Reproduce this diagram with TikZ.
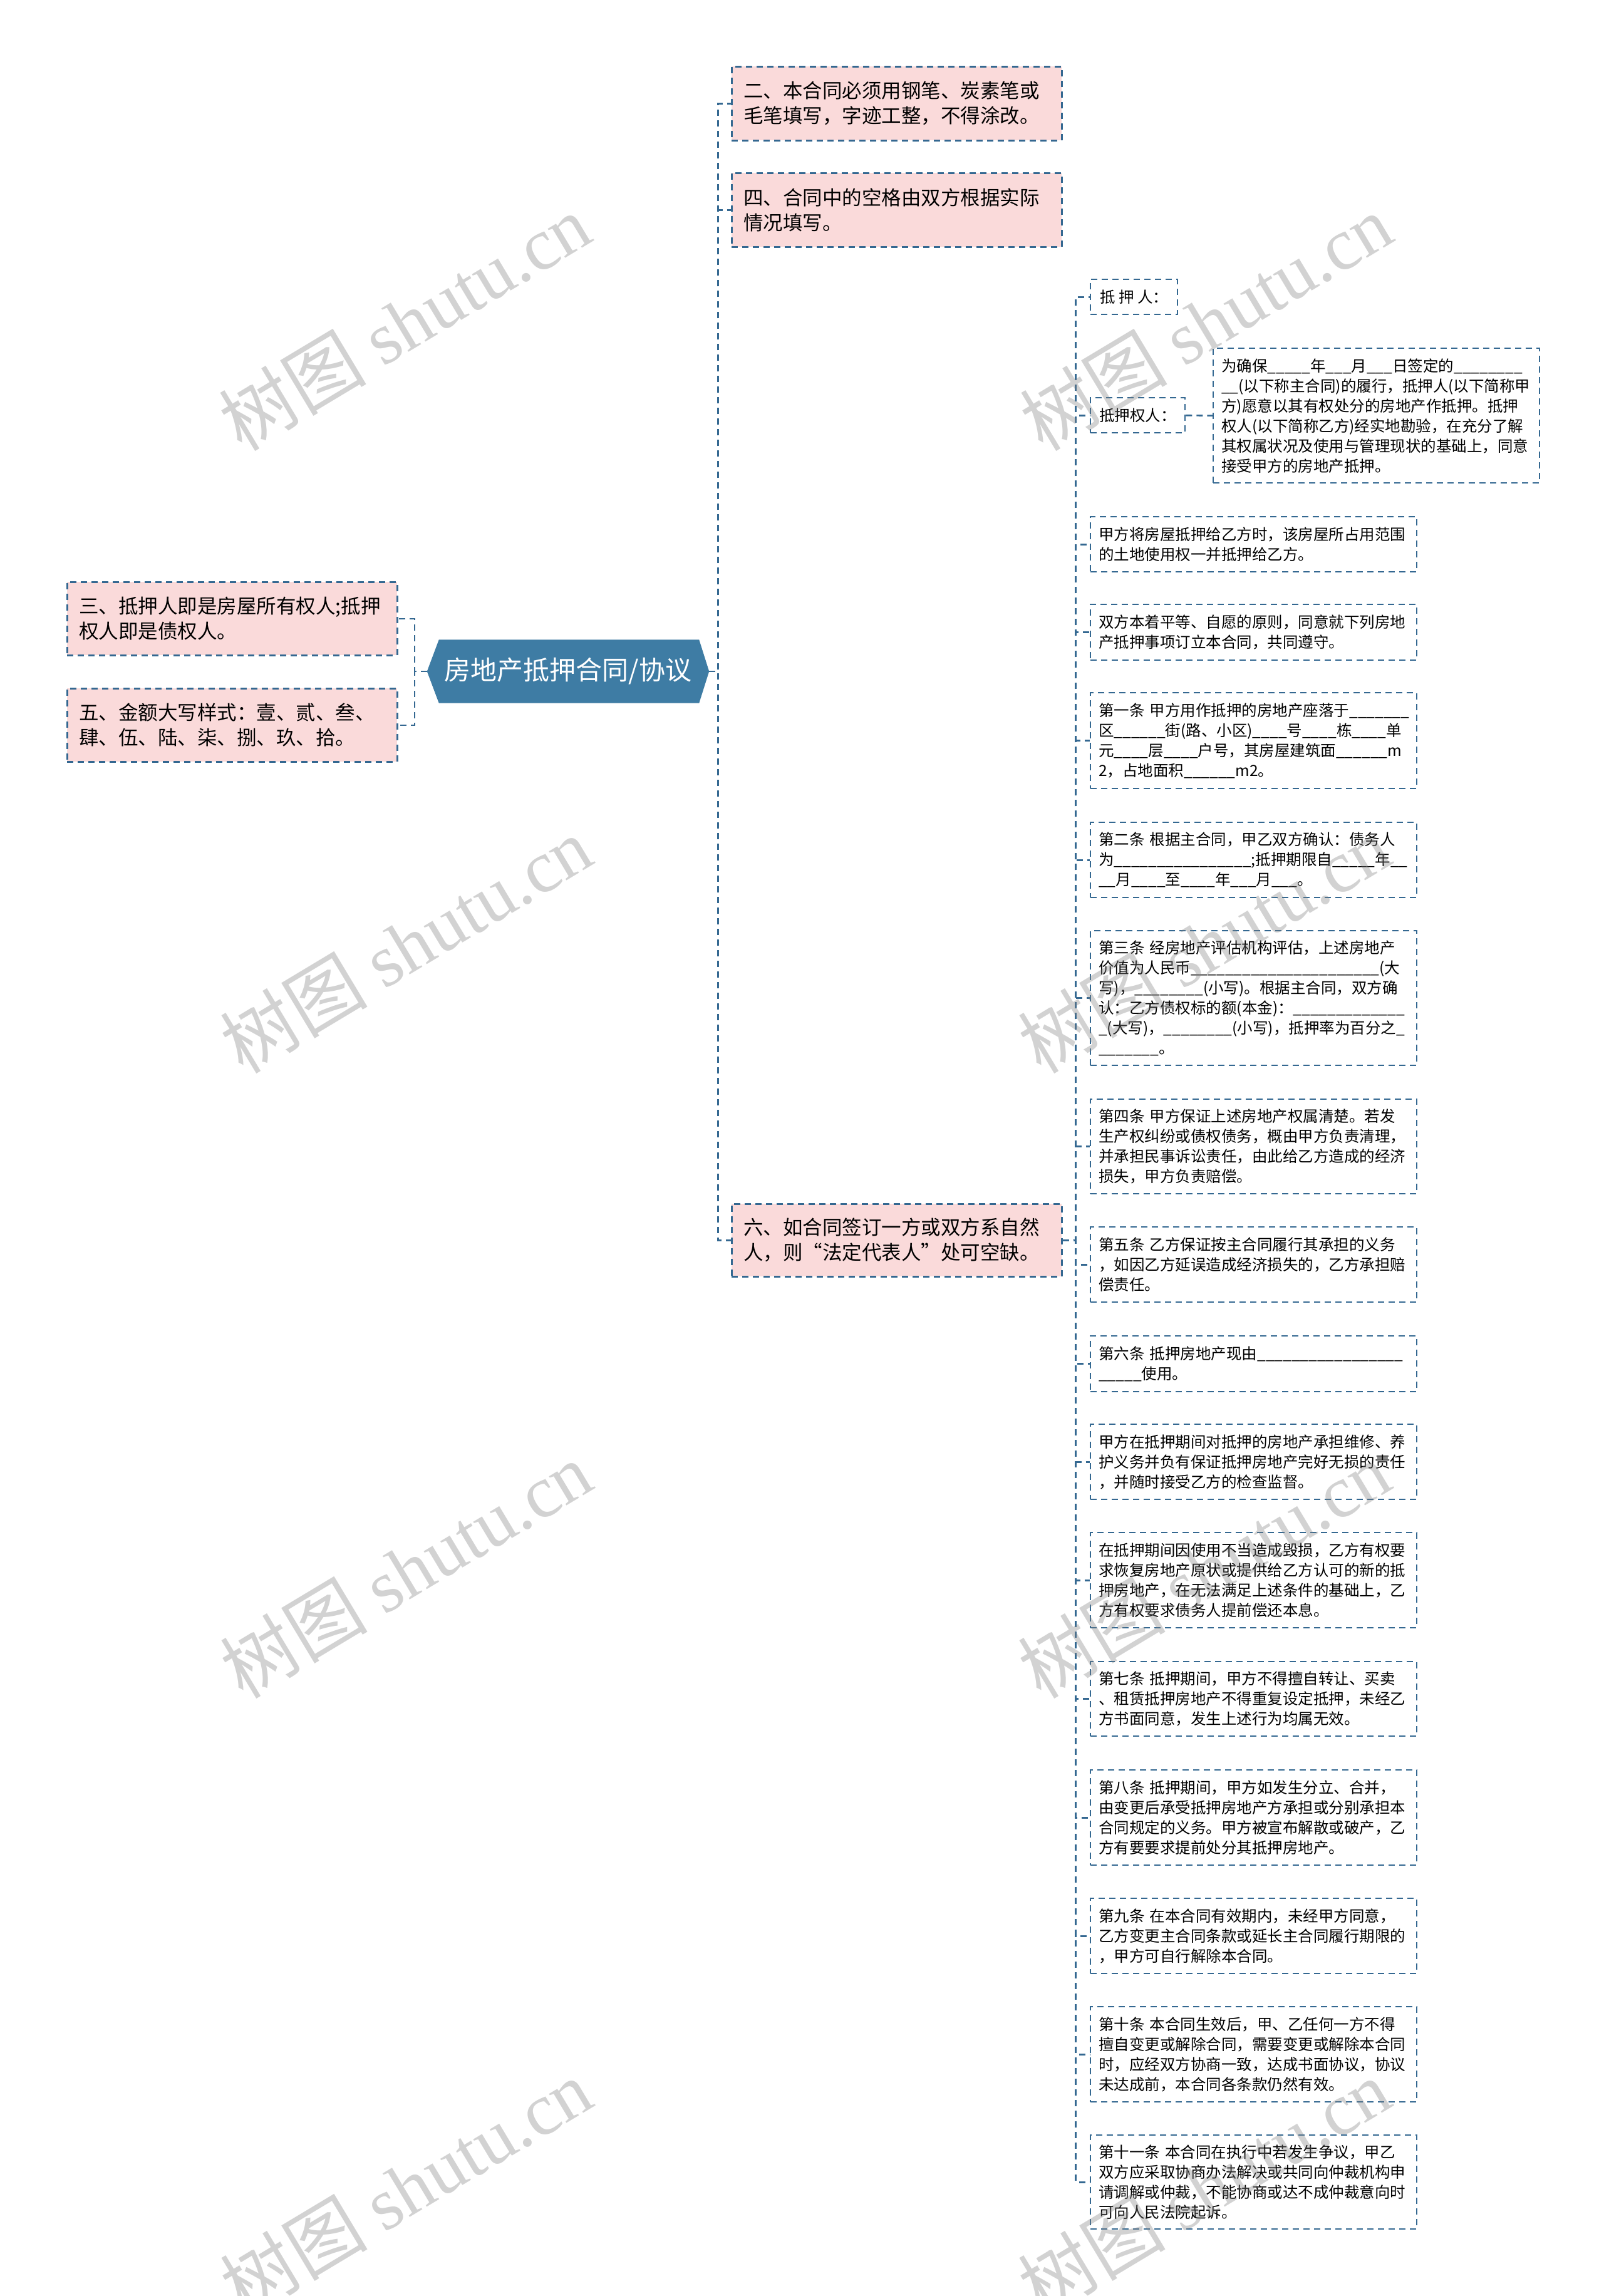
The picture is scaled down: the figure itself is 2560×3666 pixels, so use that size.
\documentclass[tikz,border=0pt]{standalone}
\usepackage{fontspec}
\setmainfont{Noto Sans CJK SC}
\newfontfamily\wmserif{Liberation Serif}
\usetikzlibrary{backgrounds}
\definecolor{lineblue}{RGB}{52,104,145}
\definecolor{rootblue}{RGB}{62,124,164}
\definecolor{pinkfill}{RGB}{250,218,218}
\newcommand\myblank[1]{\ifnum#1>0 \_\expandafter\myblank\expandafter{\the\numexpr#1-1\relax}\fi}
\begin{document}
\begin{tikzpicture}[x=1pt,y=-1pt,
  conn/.style={draw=lineblue, line width=2.6pt, dash pattern=on 10pt off 7pt},
  pinkbox/.style={draw=lineblue, fill=pinkfill, line width=2.6pt, dash pattern=on 10pt off 7pt,
    anchor=north west, inner xsep=19pt, inner ysep=0pt, align=left, text width=489pt,
    minimum width=527pt, font=\fontsize{31.5}{40}\selectfont},
  whitebox/.style={draw=lineblue, fill=white, line width=2.4pt, dash pattern=on 10pt off 7pt,
    anchor=north west, inner xsep=13pt, inner ysep=0pt, align=left, text width=495pt,
    minimum width=521pt, font=\fontsize{24.5}{32}\selectfont},
  shortbox/.style={draw=lineblue, fill=white, line width=2.4pt, dash pattern=on 10pt off 7pt,
    anchor=north west, inner xsep=13pt, inner ysep=0pt, minimum height=56pt,
    font=\fontsize{24.5}{32}\selectfont},
  wm/.style={text=gray, text opacity=0.35, rotate=31, inner sep=0pt,
    font=\fontsize{118}{118}\selectfont}
]
\useasboundingbox (0,0) rectangle (2560,3666);

% root
\node[text=white, minimum width=450pt, minimum height=101pt, inner sep=0pt,
  font=\fontsize{42}{50}\selectfont] (root) at (907,1072) {房地产抵押合同/协议};
\begin{pgfonlayer}{background}
  \fill[white] (0,0) rectangle (2560,3666);
  \fill[rootblue] (root.west) -- ([xshift=19pt]root.north west) -- ([xshift=-16pt]root.north east)
    -- (root.east) -- ([xshift=-16pt]root.south east) -- ([xshift=19pt]root.south west) -- cycle;
\end{pgfonlayer}

% left level-1
\node[pinkbox, minimum height=117pt] (n3) at (106,928) {三、抵押人即是房屋所有权人;抵押\\权人即是债权人。};
\node[pinkbox, minimum height=117pt] (n5) at (106,1098) {五、金额大写样式：壹、贰、叁、\\肆、伍、陆、柒、捌、玖、拾。};

% right level-1
\node[pinkbox, minimum height=118pt] (n2) at (1167,105) {二、本合同必须用钢笔、炭素笔或\\毛笔填写，字迹工整，不得涂改。};
\node[pinkbox, minimum height=118pt] (n4) at (1167,275) {四、合同中的空格由双方根据实际\\情况填写。};
\node[pinkbox, minimum height=116pt] (n6) at (1167,1921) {六、如合同签订一方或双方系自然\\人，则“法定代表人”处可空缺。};

% level-2
\node[shortbox, minimum width=139pt] (a1) at (1740,445) {抵 押 人：};
\node[shortbox, minimum width=151pt] (a2) at (1740,634) {抵押权人：};
\node[whitebox, minimum height=215pt, minimum width=521pt] (c1) at (1936,555) {为确保\myblank{5}年\myblank{3}月\myblank{3}日签定的\myblank{8}\\\myblank{2}(以下称主合同)的履行，抵押人(以下简称甲\\方)愿意以其有权处分的房地产作抵押。抵押\\权人(以下简称乙方)经实地勘验，在充分了解\\其权属状况及使用与管理现状的基础上，同意\\接受甲方的房地产抵押。};

\node[whitebox, minimum height=88pt] (b1) at (1740,824) {甲方将房屋抵押给乙方时，该房屋所占用范围\\的土地使用权一并抵押给乙方。};
\node[whitebox, minimum height=89pt] (b2) at (1740,964) {双方本着平等、自愿的原则，同意就下列房地\\产抵押事项订立本合同，共同遵守。};
\node[whitebox, minimum height=153pt] (b3) at (1740,1105) {第一条~甲方用作抵押的房地产座落于\myblank{7}\\区\myblank{6}街(路、小区)\myblank{4}号\myblank{4}栋\myblank{4}单\\元\myblank{4}层\myblank{4}户号，其房屋建筑面\myblank{6}m\\2，占地面积\myblank{6}m2。};
\node[whitebox, minimum height=120pt] (b4) at (1740,1312) {第二条~根据主合同，甲乙双方确认：债务人\\为\myblank{16};抵押期限自\myblank{5}年\myblank{2}\\\myblank{2}月\myblank{4}至\myblank{4}年\myblank{3}月\myblank{3}。};
\node[whitebox, minimum height=215pt] (b5) at (1740,1485) {第三条~经房地产评估机构评估，上述房地产\\价值为人民币\myblank{22}(大\\写)，\myblank{8}(小写)。根据主合同，双方确\\认：乙方债权标的额(本金)：\myblank{13}\\\myblank{1}(大写)，\myblank{8}(小写)，抵押率为百分之\myblank{1}\\\myblank{7}。};
\node[whitebox, minimum height=151pt] (b6) at (1740,1754) {第四条~甲方保证上述房地产权属清楚。若发\\生产权纠纷或债权债务，概由甲方负责清理，\\并承担民事诉讼责任，由此给乙方造成的经济\\损失，甲方负责赔偿。};
\node[whitebox, minimum height=120pt] (b7) at (1740,1958) {第五条~乙方保证按主合同履行其承担的义务\\，如因乙方延误造成经济损失的，乙方承担赔\\偿责任。};
\node[whitebox, minimum height=89pt] (b8) at (1740,2132) {第六条~抵押房地产现由\myblank{17}\\\myblank{5}使用。};
\node[whitebox, minimum height=120pt] (b9) at (1740,2273) {甲方在抵押期间对抵押的房地产承担维修、养\\护义务并负有保证抵押房地产完好无损的责任\\，并随时接受乙方的检查监督。};
\node[whitebox, minimum height=152pt] (b10) at (1740,2446) {在抵押期间因使用不当造成毁损，乙方有权要\\求恢复房地产原状或提供给乙方认可的新的抵\\押房地产，在无法满足上述条件的基础上，乙\\方有权要求债务人提前偿还本息。};
\node[whitebox, minimum height=119pt] (b11) at (1740,2652) {第七条~抵押期间，甲方不得擅自转让、买卖\\、租赁抵押房地产不得重复设定抵押，未经乙\\方书面同意，发生上述行为均属无效。};
\node[whitebox, minimum height=152pt] (b12) at (1740,2825) {第八条~抵押期间，甲方如发生分立、合并，\\由变更后承受抵押房地产方承担或分别承担本\\合同规定的义务。甲方被宣布解散或破产，乙\\方有要要求提前处分其抵押房地产。};
\node[whitebox, minimum height=120pt] (b13) at (1740,3030) {第九条~在本合同有效期内，未经甲方同意，\\乙方变更主合同条款或延长主合同履行期限的\\，甲方可自行解除本合同。};
\node[whitebox, minimum height=152pt] (b14) at (1740,3203) {第十条~本合同生效后，甲、乙任何一方不得\\擅自变更或解除合同，需要变更或解除本合同\\时，应经双方协商一致，达成书面协议，协议\\未达成前，本合同各条款仍然有效。};
\node[whitebox, minimum height=150pt] (b15) at (1740,3408) {第十一条~本合同在执行中若发生争议，甲乙\\双方应采取协商办法解决或共同向仲裁机构申\\请调解或仲裁，不能协商或达不成仲裁意向时\\可向人民法院起诉。};

% connectors
\foreach \t in {n3,n5} \draw[conn] (root.west) -- ++(-20,0) |- (\t.east);
\foreach \t in {n2,n4,n6} \draw[conn] (root.east) -- ++(14,0) |- (\t.west);
\foreach \t in {a1,a2,b1,b2,b3,b4,b5,b6,b7,b8,b9,b10,b11,b12,b13,b14,b15}
  \draw[conn] (n6.east) -- ++(21,0) |- (\t.west);
\draw[conn] (a2.east) -- (c1.west);

% watermarks
\node[wm] (wm1) at (646,514) {树图 {\wmserif shutu.cn}};
\node[wm] (wm2) at (1925,514) {树图 {\wmserif shutu.cn}};
\node[wm] (wm3) at (648,1508) {树图 {\wmserif shutu.cn}};
\node[wm] (wm4) at (1922,1508) {树图 {\wmserif shutu.cn}};
\node[wm] (wm5) at (648,2506) {树图 {\wmserif shutu.cn}};
\node[wm] (wm6) at (1922,2506) {树图 {\wmserif shutu.cn}};
\node[wm] (wm7) at (648,3492) {树图 {\wmserif shutu.cn}};
\node[wm] (wm8) at (1922,3492) {树图 {\wmserif shutu.cn}};
\end{tikzpicture}
\end{document}
